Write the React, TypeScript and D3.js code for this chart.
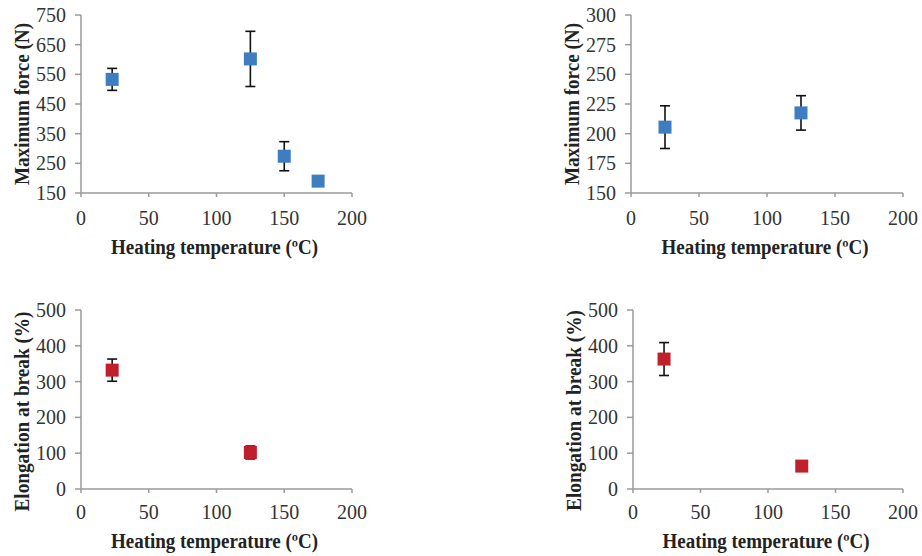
import React from "react";
import * as d3 from "d3";

// ---- data ----
const forceA_temp = [23, 125, 150, 175];
const forceA_val = [533, 602, 274, 190];
const forceA_err = [37, 93, 49, 6];

const forceB_temp = [25, 125];
const forceB_val = [205.5, 217.5];
const forceB_err = [18, 14.5];

const elongA_temp = [23, 125];
const elongA_val = [332, 102];
const elongA_err = [31, 18];

const elongB_temp = [23, 125];
const elongB_val = [363, 64];
const elongB_err = [46, 8];

const xTicks = [0, 50, 100, 150, 200];
const forceATicks = [150, 250, 350, 450, 550, 650, 750];
const forceBTicks = [150, 175, 200, 225, 250, 275, 300];
const elongTicks = [0, 100, 200, 300, 400, 500];

const xTitle = "Heating temperature (ºC)";
const forceTitle = "Maximum force (N)";
const elongTitle = "Elongation at break (%)";

const BLUE = "#3F7DC1";
const RED = "#C0202B";

type PanelProps = {
  x0: number; x1: number; yTop: number; yBot: number;
  yDomain: [number, number]; yTicks: number[];
  temps: number[]; vals: number[]; errs: number[];
  color: string; yTitle: string; yTitleLen: number; yTitleShift: number;
  xLabelOff: number; xTitleOff: number;
};

const FONT = "'Liberation Serif', 'Times New Roman', serif";

function Panel(p: PanelProps) {
  const x = d3.scaleLinear().domain([0, 200]).range([p.x0, p.x1]);
  const y = d3.scaleLinear().domain(p.yDomain).range([p.yBot, p.yTop]);
  const axisColor = "#9a9a9a";
  const ms = 13;
  const cap = 5;
  const midY = (p.yTop + p.yBot) / 2 + p.yTitleShift;
  const tx = p.x0 - 59;
  return (
    <g>
      {/* axes */}
      <line x1={p.x0} x2={p.x0} y1={p.yTop} y2={p.yBot} stroke={axisColor} strokeWidth={1.5} />
      <line x1={p.x0} x2={p.x1} y1={p.yBot} y2={p.yBot} stroke={axisColor} strokeWidth={1.5} />
      {p.yTicks.map((t) => (
        <g key={"y" + t}>
          <line x1={p.x0 - 6} x2={p.x0} y1={y(t)} y2={y(t)} stroke={axisColor} strokeWidth={1.5} />
          <text x={p.x0 - 15} y={y(t)} dy="0.35em" textAnchor="end" fontFamily={FONT}
            fontSize={20} fill="#333">{t}</text>
        </g>
      ))}
      {xTicks.map((t) => (
        <g key={"x" + t}>
          <line x1={x(t)} x2={x(t)} y1={p.yBot} y2={p.yBot + 4} stroke={axisColor} strokeWidth={1.5} />
          <text x={x(t)} y={p.yBot + p.xLabelOff} dy="0.35em" textAnchor="middle" fontFamily={FONT}
            fontSize={20} fill="#333">{t}</text>
        </g>
      ))}
      {/* titles */}
      <text x={(p.x0 + p.x1) / 2 - 2} y={p.yBot + p.xTitleOff} dy="0.35em" textAnchor="middle"
        fontFamily={FONT} fontWeight="bold" fontSize={20} fill="#222"
        textLength={207} lengthAdjust="spacingAndGlyphs">{xTitle}</text>
      <text transform={`translate(${tx},${midY}) rotate(-90)`} dy="0.35em" textAnchor="middle"
        fontFamily={FONT} fontWeight="bold" fontSize={20} fill="#222"
        textLength={p.yTitleLen} lengthAdjust="spacingAndGlyphs">{p.yTitle}</text>
      {/* error bars */}
      {p.temps.map((t, i) => (
        <g key={"e" + i} stroke="#111" strokeWidth={1.6}>
          <line x1={x(t)} x2={x(t)} y1={y(p.vals[i] + p.errs[i])} y2={y(p.vals[i] - p.errs[i])} />
          <line x1={x(t) - cap} x2={x(t) + cap} y1={y(p.vals[i] + p.errs[i])} y2={y(p.vals[i] + p.errs[i])} />
          <line x1={x(t) - cap} x2={x(t) + cap} y1={y(p.vals[i] - p.errs[i])} y2={y(p.vals[i] - p.errs[i])} />
        </g>
      ))}
      {/* markers */}
      {p.temps.map((t, i) => (
        <rect key={"m" + i} x={x(t) - ms / 2} y={y(p.vals[i]) - ms / 2} width={ms} height={ms} fill={p.color} />
      ))}
    </g>
  );
}

export default function App() {
  return (
    <svg width={922} height={556} style={{ display: "block", position: "absolute", left: 0, top: 0, background: "#fff" }}>
      <rect width={922} height={556} fill="#fff" />
      <Panel x0={81} x1={352} yTop={15} yBot={193} yDomain={[150, 750]} yTicks={forceATicks}
        temps={forceA_temp} vals={forceA_val} errs={forceA_err} color={BLUE}
        yTitle={forceTitle} yTitleLen={162} yTitleShift={0} xLabelOff={25} xTitleOff={54} />
      <Panel x0={631} x1={903} yTop={15} yBot={193} yDomain={[150, 300]} yTicks={forceBTicks}
        temps={forceB_temp} vals={forceB_val} errs={forceB_err} color={BLUE}
        yTitle={forceTitle} yTitleLen={162} yTitleShift={0} xLabelOff={25} xTitleOff={54} />
      <Panel x0={81} x1={352} yTop={310} yBot={489} yDomain={[0, 500]} yTicks={elongTicks}
        temps={elongA_temp} vals={elongA_val} errs={elongA_err} color={RED}
        yTitle={elongTitle} yTitleLen={200} yTitleShift={12} xLabelOff={23} xTitleOff={52} />
      <Panel x0={633} x1={903} yTop={310} yBot={489} yDomain={[0, 500]} yTicks={elongTicks}
        temps={elongB_temp} vals={elongB_val} errs={elongB_err} color={RED}
        yTitle={elongTitle} yTitleLen={201} yTitleShift={11} xLabelOff={23} xTitleOff={52} />
    </svg>
  );
}
